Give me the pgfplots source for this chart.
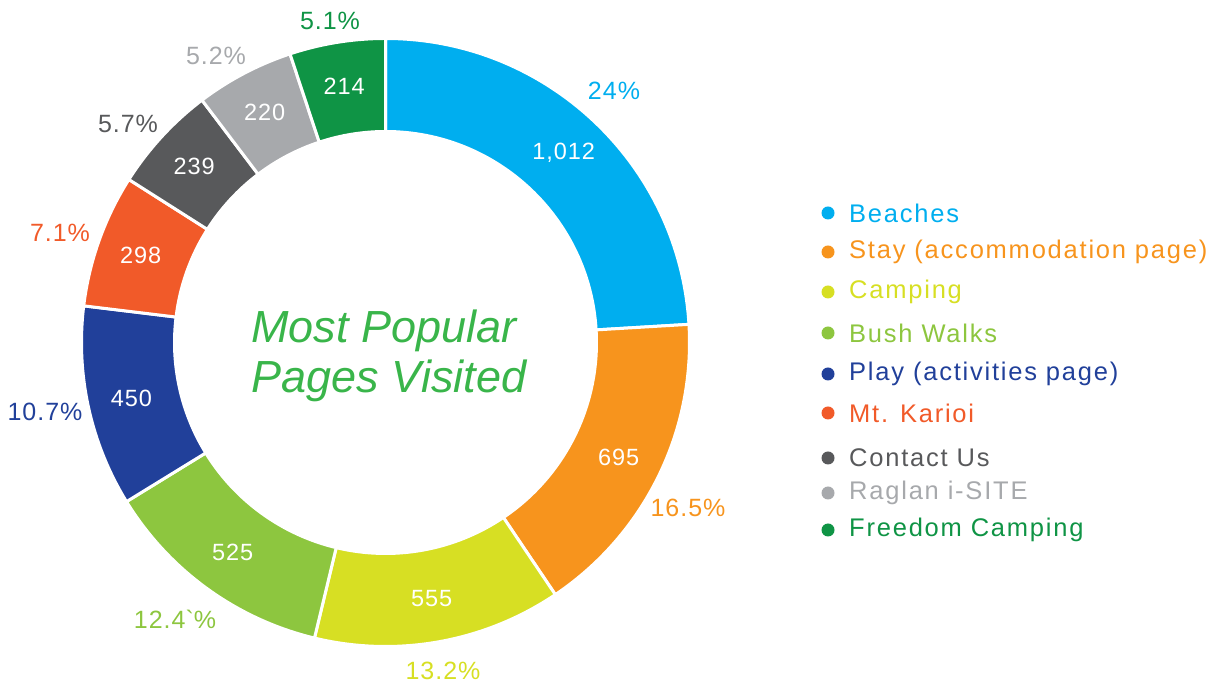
\documentclass[border=0pt]{standalone}
\usepackage{fontspec}
\usepackage{pgfplots}
\usepackage{pgfplotstable}
\pgfplotsset{compat=1.18}
\setmainfont{Liberation Sans}
\newfontfamily\lgfont{Liberation Sans}[LetterSpace=7]
\newfontfamily\pcfont{Liberation Sans}[LetterSpace=4]
\pgfkeys{/pgf/number format/assume math mode=true}

% page visits per section, with where its percent label and legend row sit
\pgfplotstableread{
value lx  ly  ylegend
1012  614 91  213
695   688 508 252
555   443 671 292
525   175 619 333
450   45  412 374
298   60  233 413
239   128 124 458
220   216 56  493
214   330 21  530
}\pagedata

% index, colour, legend name, percent label
\newcommand\segdef[4]{%
  \definecolor{seg#1}{HTML}{#2}%
  \expandafter\def\csname segN#1\endcsname{#3}%
  \expandafter\def\csname segP#1\endcsname{#4}}
\segdef{0}{00AEEF}{Beaches}{24\%}
\segdef{1}{F7941D}{Stay (accommodation page)}{16.5\%}
\segdef{2}{D7DF23}{Camping}{13.2\%}
\segdef{3}{8DC63F}{Bush Walks}{12.4\textasciigrave\%}
\segdef{4}{21409A}{Play (activities page)}{10.7\%}
\segdef{5}{F15A29}{Mt. Karioi}{7.1\%}
\segdef{6}{58595B}{Contact Us}{5.7\%}
\segdef{7}{A7A9AC}{Raglan i-SITE}{5.2\%}
\segdef{8}{0F9445}{Freedom Camping}{5.1\%}
\definecolor{titlegreen}{HTML}{39B54A}

% cumulative angles, clockwise from the top
\def\segtotal{0}
\pgfplotsforeachungrouped \i in {0,...,8}{%
  \pgfplotstablegetelem{\i}{value}\of\pagedata
  \pgfmathsetmacro\segtotal{\segtotal+\pgfplotsretval}}
\def\cum{0}
\pgfplotsforeachungrouped \i in {0,...,8}{%
  \pgfplotstablegetelem{\i}{value}\of\pagedata
  \let\v\pgfplotsretval
  \pgfmathsetmacro\a{90-\cum/\segtotal*360}%
  \pgfmathsetmacro\cum{\cum+\v}%
  \pgfmathsetmacro\b{90-\cum/\segtotal*360}%
  \pgfmathsetmacro\m{(\a+\b)/2}%
  \pgfplotstablegetelem{\i}{ylegend}\of\pagedata
  \pgfmathsetmacro\yy{687-\pgfplotsretval}%
  \pgfplotstablegetelem{\i}{lx}\of\pagedata
  \expandafter\xdef\csname segLX\i\endcsname{\pgfplotsretval}%
  \pgfplotstablegetelem{\i}{ly}\of\pagedata
  \pgfmathsetmacro\ly{687-\pgfplotsretval}%
  \expandafter\xdef\csname segLY\i\endcsname{\ly}%
  \expandafter\xdef\csname segA\i\endcsname{\a}%
  \expandafter\xdef\csname segB\i\endcsname{\b}%
  \expandafter\xdef\csname segM\i\endcsname{\m}%
  \expandafter\xdef\csname segV\i\endcsname{\v}%
  \expandafter\xdef\csname segY\i\endcsname{\yy}}
\newcommand\sA[1]{\csname segA#1\endcsname}
\newcommand\sB[1]{\csname segB#1\endcsname}
\newcommand\sM[1]{\csname segM#1\endcsname}

\def\cx{385.5}
\def\cy{344.5}

\begin{document}
\begin{tikzpicture}
\begin{axis}[
  scale only axis,
  width=1217pt, height=687pt,
  xmin=0, xmax=1217, ymin=0, ymax=687,
  hide axis,
  clip=false,
]
\pgfplotsinvokeforeach{0,...,8}{
  \fill[seg#1, draw=white, line width=3pt, line join=miter]
    ([shift={(\sA{#1}:304pt)}]axis cs:\cx,\cy)
    arc[start angle=\sA{#1}, end angle=\sB{#1}, radius=304pt]
    -- ([shift={(\sB{#1}:211pt)}]axis cs:\cx,\cy)
    arc[start angle=\sB{#1}, end angle=\sA{#1}, radius=211pt]
    -- cycle;
  \node[text=white, font=\pcfont\fontsize{23.5}{27}\selectfont]
    at ([shift={(\sM{#1}:260pt)}]axis cs:\cx,\cy)
    {\pgfmathprintnumber[1000 sep={,}]{\csname segV#1\endcsname}};
  \node[text=seg#1, font=\pcfont\fontsize{25}{29}\selectfont]
    at (axis cs:\csname segLX#1\endcsname,\csname segLY#1\endcsname)
    {\csname segP#1\endcsname};
  \fill[seg#1] (axis cs:828,\csname segY#1\endcsname) circle[radius=6.5pt];
  \node[anchor=west, inner sep=0pt, text=seg#1, font=\lgfont\fontsize{25.5}{29}\selectfont]
    at (axis cs:849,\csname segY#1\endcsname) {\csname segN#1\endcsname};
}
\node[text=titlegreen, anchor=base, font=\itshape\fontsize{45}{50}\selectfont]
  at (axis cs:384,344) {Most Popular};
\node[text=titlegreen, anchor=base, font=\itshape\fontsize{45}{50}\selectfont]
  at (axis cs:389,294) {Pages Visited};
\end{axis}
\pgfresetboundingbox
\path (current axis.south west) rectangle (current axis.north east);
\end{tikzpicture}
\end{document}
